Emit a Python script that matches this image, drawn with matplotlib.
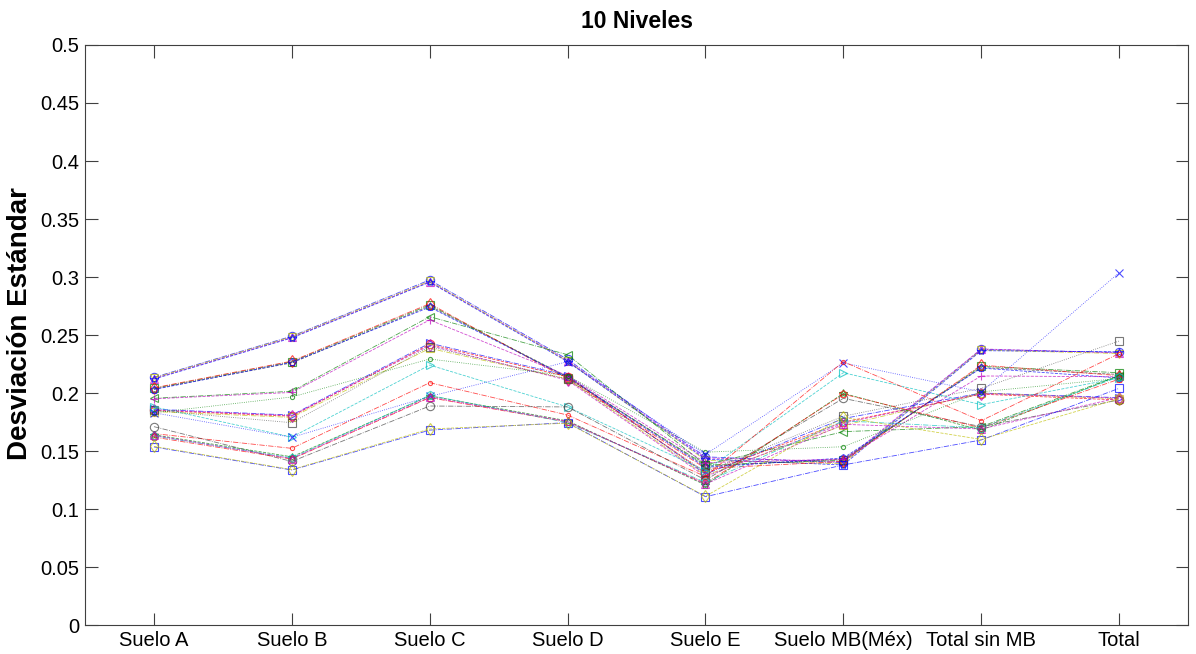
import matplotlib.pyplot as plt

plt.rcParams['font.family'] = ['Liberation Sans', 'DejaVu Sans']

# categories on the x axis
categorias = ["Suelo A", "Suelo B", "Suelo C", "Suelo D", "Suelo E",
              "Suelo MB(Méx)", "Total sin MB", "Total"]

# standard deviation per series
s01 = [0.2135, 0.2490, 0.2975, 0.2290, 0.1450, 0.1400, 0.2376, 0.2350]
s02 = [0.2125, 0.2480, 0.2960, 0.2280, 0.1440, 0.1410, 0.2380, 0.2345]
s03 = [0.2130, 0.2485, 0.2965, 0.2275, 0.1420, 0.1390, 0.2370, 0.2340]
s04 = [0.2120, 0.2475, 0.2955, 0.2270, 0.1430, 0.1380, 0.2365, 0.2355]
s05 = [0.2040, 0.2270, 0.2760, 0.2130, 0.1380, 0.1420, 0.2230, 0.2175]
s06 = [0.2035, 0.2260, 0.2750, 0.2140, 0.1370, 0.1430, 0.2220, 0.2160]
s07 = [0.2045, 0.2275, 0.2770, 0.2120, 0.1350, 0.1410, 0.2240, 0.2150]
s08 = [0.2030, 0.2265, 0.2740, 0.2135, 0.1360, 0.1440, 0.2215, 0.2130]
s09 = [0.1955, 0.2015, 0.2658, 0.2330, 0.1380, 0.1667, 0.1710, 0.2150]
s10 = [0.1950, 0.2005, 0.2630, 0.2150, 0.1400, 0.1430, 0.2147, 0.2140]
s11 = [0.1860, 0.1810, 0.2430, 0.2150, 0.1300, 0.1780, 0.2000, 0.1960]
s12 = [0.1850, 0.1800, 0.2420, 0.2140, 0.1310, 0.1750, 0.1990, 0.1940]
s13 = [0.1840, 0.1790, 0.2385, 0.2120, 0.1290, 0.1720, 0.2000, 0.1950]
s14 = [0.1855, 0.1805, 0.2410, 0.2110, 0.1280, 0.1740, 0.1995, 0.1955]
s15 = [0.1850, 0.1744, 0.2400, 0.2120, 0.1320, 0.1800, 0.2040, 0.2448]
s16 = [0.1830, 0.1966, 0.2293, 0.2150, 0.1490, 0.1537, 0.2010, 0.2126]
s17 = [0.1880, 0.1620, 0.2241, 0.1880, 0.1330, 0.2175, 0.1900, 0.2130]
s18 = [0.1830, 0.1618, 0.1970, 0.2270, 0.1470, 0.2260, 0.2010, 0.3037]
s19 = [0.1650, 0.1523, 0.2089, 0.1810, 0.1280, 0.2270, 0.1761, 0.2340]
s20 = [0.1710, 0.1410, 0.1888, 0.1880, 0.1250, 0.1954, 0.1710, 0.1940]
s21 = [0.1640, 0.1450, 0.1975, 0.1760, 0.1207, 0.1997, 0.1680, 0.2150]
s22 = [0.1620, 0.1430, 0.1960, 0.1750, 0.1220, 0.1990, 0.1700, 0.2120]
s23 = [0.1630, 0.1440, 0.1980, 0.1745, 0.1230, 0.1760, 0.1700, 0.2140]
s24 = [0.1635, 0.1435, 0.1965, 0.1755, 0.1215, 0.1730, 0.1690, 0.1960]
s25 = [0.1535, 0.1336, 0.1680, 0.1745, 0.1106, 0.1380, 0.1595, 0.2040]
s26 = [0.1540, 0.1340, 0.1690, 0.1740, 0.1110, 0.1790, 0.1600, 0.1950]

series = [s01, s02, s03, s04, s05, s06, s07, s08, s09, s10, s11, s12, s13,
          s14, s15, s16, s17, s18, s19, s20, s21, s22, s23, s24, s25, s26]

# MATLAB-like line specs: colour, marker, linestyle
B, G, R, C, M, Y, K = '#0000ff', '#008000', '#ff0000', '#00bfbf', '#bf00bf', '#bfbf00', '#404040'
estilos = [
    (B, 'o', '-.'), (M, '^', '--'), (Y, 'v', '-.'), (B, '*', '--'),
    (G, 's', '-.'), (K, '*', '--'), (R, 'd', '-.'), (B, 'p', '--'),
    (G, '<', '-.'), (M, '+', '--'), (B, '>', '-.'), (R, 'o', '--'),
    (Y, 's', '-.'), (M, 'd', '--'), (K, 's', ':'), (G, '.', ':'),
    (C, '>', '--'), (B, 'x', ':'), (R, '.', '-.'), (K, 'o', '-.'),
    (G, '*', '--'), (R, 'p', '-.'), (C, 'h', '-.'), (M, '^', '--'),
    (B, 's', '-.'), (Y, 'd', '--'),
]

fig = plt.figure(figsize=(11.96, 6.54), dpi=100)
ax = fig.add_axes([0.0711, 0.0443, 0.9222, 0.8869])

x = range(1, len(categorias) + 1)
for vals, (col, mk, ls) in zip(series, estilos):
    ax.plot(x, vals, color=col, linestyle=ls, linewidth=0.6, alpha=0.7,
            marker=mk, markersize=6, markerfacecolor='none',
            markeredgewidth=0.8)

ax.set_xlim(0.5, 8.5)
ax.set_ylim(0, 0.5)
ax.set_xticks(list(x))
ax.set_xticklabels(categorias)
yt = [i * 0.05 for i in range(11)]
ax.set_yticks(yt)
ax.set_yticklabels(['0', '0.05', '0.1', '0.15', '0.2', '0.25', '0.3',
                    '0.35', '0.4', '0.45', '0.5'])
ax.tick_params(direction='in', length=9, width=0.8, colors='#404040',
               labelcolor='black', labelsize=14.5, top=True, right=True,
               pad=4)
for sp in ax.spines.values():
    sp.set_color('#404040')
    sp.set_linewidth(0.8)

ax.set_ylabel("Desviación Estándar", fontsize=20, fontweight='bold')
ax.yaxis.set_label_coords(-0.047, 0.52)
ax.set_title("10 Niveles", fontsize=16.5, fontweight='bold', pad=12)

fig.savefig("out.png", dpi=100)
